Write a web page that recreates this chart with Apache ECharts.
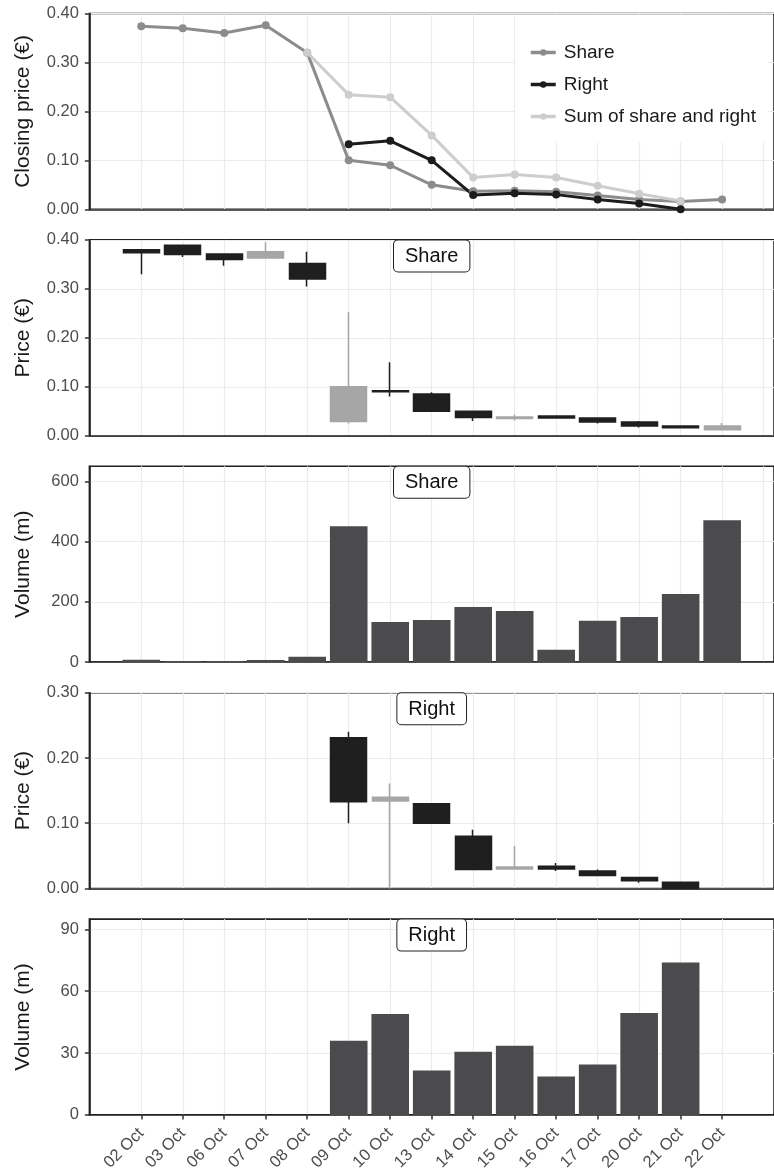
<!DOCTYPE html>
<html><head><meta charset="utf-8">
<script src="https://cdn.jsdelivr.net/npm/echarts@6/dist/echarts.min.js"></script>
<style>html,body{margin:0;padding:0;background:#fff}#c{width:774px;height:1176px}</style>
</head><body><div id="c"></div>
<script>
// ---------- data ----------
const categories = ['02 Oct','03 Oct','06 Oct','07 Oct','08 Oct','09 Oct','10 Oct','13 Oct','14 Oct','15 Oct','16 Oct','17 Oct','20 Oct','21 Oct','22 Oct'];

// closing prices (top panel)
const shareClose = [0.374,0.370,0.360,0.376,0.320,0.100,0.090,0.050,0.037,0.038,0.036,0.028,0.020,0.016,0.020];
const rightClose = [null,null,null,null,null,0.133,0.140,0.100,0.029,0.033,0.030,0.020,0.012,0.000,null];
const sumClose   = [null,null,null,null,0.320,0.234,0.229,0.151,0.065,0.071,0.065,0.048,0.032,0.017,null];

// share candles
const shareOpen = [0.380,0.389,0.371,0.363,0.352,0.029,0.092,0.085,0.050,0.035,0.040,0.036,0.028,0.020,0.012];
const shareLow  = [0.330,0.365,0.347,0.362,0.305,0.025,0.080,0.049,0.030,0.031,0.035,0.025,0.017,0.015,0.012];
const shareHigh = [0.380,0.389,0.371,0.395,0.376,0.252,0.150,0.089,0.050,0.0435,0.042,0.036,0.030,0.020,0.026];

// right candles
const rightOpen = [null,null,null,null,null,0.231,0.134,0.130,0.080,0.030,0.034,0.027,0.017,0.0095,null];
const rightLow  = [null,null,null,null,null,0.100,0.000,0.100,0.028,0.030,0.027,0.020,0.009,0.000,null];
const rightHigh = [null,null,null,null,null,0.240,0.161,0.130,0.090,0.065,0.039,0.029,0.017,0.0095,null];

// volumes (millions)
const shareVolume = [8,4,4,7,18,451,133,140,183,170,41,137,150,226,471];
const rightVolume = [null,null,null,null,null,36,49,21.5,30.7,33.5,18.6,24.4,49.4,74,null];

// tick values
const priceTicks = [0,0.1,0.2,0.3,0.4];
const rightPriceTicks = [0,0.1,0.2,0.3];
const shareVolTicks = [0,200,400,600];
const rightVolTicks = [0,30,60,90];

// ---------- helpers ----------
const FONT = 'Liberation Sans, Arial, Helvetica, sans-serif';
const idxAll = categories.map((_, i) => i);
const idxGrid = idxAll.concat([categories.length]);
const pairs = arr => arr.map((v, i) => v == null ? null : [i, v]).filter(d => d);
const candles = (o, c, l, h) => o.map((v, i) => v == null ? null : [i, v, c[i], l[i], h[i]]).filter(d => d);

const yMax = [0.4, 0.4, 650, 0.3, 95];
const yTicks = [priceTicks, priceTicks, shareVolTicks, rightPriceTicks, rightVolTicks];
const yNames = ['Closing price (€)', 'Price (€)', 'Volume (m)', 'Price (€)', 'Volume (m)'];
const yDec = [2, 2, 0, 2, 0];

const grids = [], xAxes = [], yAxes = [];
for (let k = 0; k < 5; k++) {
  const last = k === 4;
  grids.push({left: 89.4, width: 690, top: 13.5 + 226.4 * k, height: 195.8,
    show: true, borderColor: '#222', borderWidth: 1.6, backgroundColor: 'transparent'});
  xAxes.push({
    type: 'value', gridIndex: k, min: -1.25, max: 15.25,
    axisLine: {show: true, onZero: false, lineStyle: {color: '#222', width: 1.6}},
    axisTick: {show: last, length: 4.5, lineStyle: {color: '#333', width: 1.5},
      customValues: last ? idxAll : idxGrid},
    axisLabel: {show: last, customValues: idxAll, formatter: v => categories[Math.round(v)],
      rotate: 45, fontSize: 16.5, color: '#4d4d4d', fontFamily: FONT, margin: 16, padding: [40, 0, 0, 0]},
    splitLine: {show: true, lineStyle: {color: '#ebebeb', width: 1.2}}
  });
  yAxes.push({
    type: 'value', gridIndex: k, min: 0, max: yMax[k],
    axisLine: {show: true, onZero: false, lineStyle: {color: '#222', width: 1.6}},
    axisTick: {show: true, length: 4.5, lineStyle: {color: '#333', width: 1.5}, customValues: yTicks[k]},
    axisLabel: {customValues: yTicks[k], formatter: v => Number(v).toFixed(yDec[k]),
      fontSize: 16.5, color: '#4d4d4d', fontFamily: FONT, margin: 10.5},
    splitLine: {show: true, lineStyle: {color: '#ebebeb', width: 1.2}},
    name: yNames[k], nameLocation: 'middle', nameGap: 56,
    nameTextStyle: {fontSize: 21, color: '#1a1a1a', fontFamily: FONT}
  });
}

const UP = '#a6a6a6', DOWN = '#1f1f1f';
const lineSeries = (name, arr, color) => ({
  type: 'line', name, xAxisIndex: 0, yAxisIndex: 0, data: pairs(arr), clip: false,
  symbol: 'circle', symbolSize: 8, showSymbol: true,
  itemStyle: {color}, lineStyle: {color, width: 3}, animation: false
});
const candleSeries = (name, k, o, c, l, h) => ({
  type: 'candlestick', name, xAxisIndex: k, yAxisIndex: k, data: candles(o, c, l, h),
  encode: {x: 0, y: [1, 2, 3, 4]}, barWidth: 36.5,
  itemStyle: {color: UP, color0: DOWN, borderColor: UP, borderColor0: DOWN, borderWidth: 1.5},
  animation: false
});
const barSeries = (name, k, arr) => ({
  type: 'bar', name, xAxisIndex: k, yAxisIndex: k, data: pairs(arr), barWidth: 37.6,
  itemStyle: {color: '#4b4b4d'}, animation: false
});

const option = {
  backgroundColor: '#fff',
  animation: false,
  textStyle: {fontFamily: FONT},
  grid: grids, xAxis: xAxes, yAxis: yAxes,
  legend: {
    data: ['Share', 'Right', 'Sum of share and right'],
    orient: 'vertical', left: 515, top: 15.5,
    backgroundColor: '#fff', padding: [27, 12, 16, 14],
    itemWidth: 25, itemHeight: 8, itemGap: 12,
    lineStyle: {width: 3.5},
    textStyle: {fontSize: 19, color: '#1a1a1a', fontFamily: FONT, lineHeight: 20, padding: [0, 0, 0, 3]}
  },
  series: [
    lineSeries('Share', shareClose, '#8c8c8c'),
    lineSeries('Right', rightClose, '#1c1c1c'),
    lineSeries('Sum of share and right', sumClose, '#cdcdcd'),
    candleSeries('Share price', 1, shareOpen, shareClose, shareLow, shareHigh),
    barSeries('Share volume', 2, shareVolume),
    candleSeries('Right price', 3, rightOpen, rightClose, rightLow, rightHigh),
    barSeries('Right volume', 4, rightVolume)
  ]
};

const chart = echarts.init(document.getElementById('c'), null, {renderer: 'canvas'});
chart.setOption(option);

// strip labels centred on 13 Oct at the top of panels 2-5
const stripAt = categories.indexOf('13 Oct');
const strips = [[1, 'Share'], [2, 'Share'], [3, 'Right'], [4, 'Right']];
chart.setOption({
  graphic: strips.map(([g, t]) => {
    const p = chart.convertToPixel({xAxisIndex: g, yAxisIndex: g}, [stripAt, yMax[g]]);
    return {type: 'text', x: p[0], y: p[1] + 0.5, z: 100,
      style: {text: t, align: 'center', verticalAlign: 'top', fontSize: 20, fontFamily: FONT,
        lineHeight: 22, fill: '#111', backgroundColor: '#fff', borderColor: '#222',
        borderWidth: 1, borderRadius: 4, padding: [5, 11, 4, 11]}};
  })
});
</script></body></html>
